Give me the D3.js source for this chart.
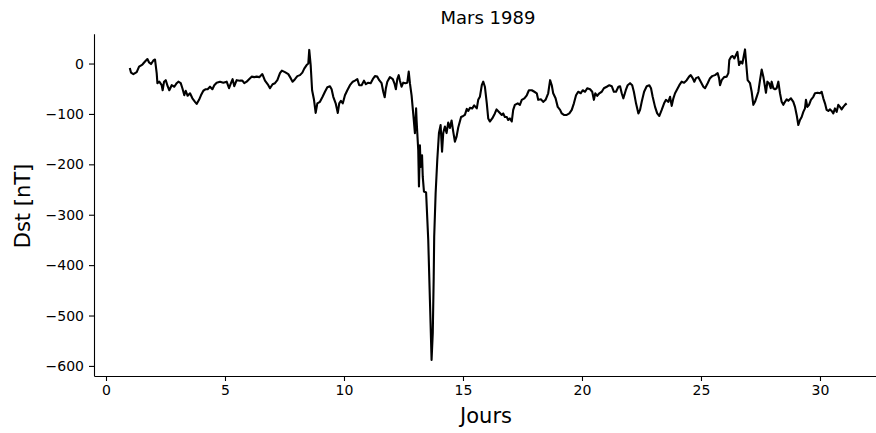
<!DOCTYPE html>
<html><head><meta charset="utf-8">
<script src="https://cdn.jsdelivr.net/npm/d3@7"></script>
<style>body{margin:0;background:#fff}svg{display:block}</style>
</head><body><svg id="c" width="876" height="433"></svg>
<script>
const title = "Mars 1989";
const xLabel = "Jours";
const yLabel = "Dst [nT]";
const xTicks = [0, 5, 10, 15, 20, 25, 30];
const yTicks = [0, -100, -200, -300, -400, -500, -600];

const days = [
1.00,1.05,1.15,1.29,1.39,1.53,1.64,1.74,1.81,1.89,1.99,2.06,2.13,2.16,2.24,2.34,2.38,2.44,2.51,2.59,
2.66,2.76,2.87,2.97,3.04,3.14,3.21,3.29,3.35,3.43,3.53,3.63,3.74,3.81,3.91,3.99,4.09,4.19,4.27,4.37,
4.47,4.55,4.65,4.79,4.93,5.07,5.17,5.25,5.32,5.39,5.49,5.63,5.73,5.81,5.91,6.01,6.12,6.23,6.33,6.44,
6.57,6.68,6.82,6.89,
7.00,7.10,7.20,7.31,7.39,7.52,7.66,7.76,7.84,7.94,8.04,8.15,8.25,8.33,8.43,8.50,8.54,8.60,8.66,8.74,
8.81,8.88,8.99,9.10,9.20,9.30,9.41,9.48,9.55,9.65,9.74,9.80,9.87,9.95,10.04,10.14,10.25,10.37,10.46,10.56,
10.64,10.74,10.84,10.92,11.02,11.12,11.21,11.30,11.40,11.48,11.58,11.65,11.71,11.76,11.82,11.93,12.05,12.13,12.18,12.24,
12.30,12.35,12.42,12.49,12.58,12.66,12.72,
12.77,12.84,12.91,12.98,13.03,13.05,13.08,13.12,13.15,13.19,13.22,13.28,13.31,13.36,13.45,13.54,13.61,13.68,13.73,13.77,
13.79,13.85,13.92,13.99,14.06,14.12,14.17,14.24,14.31,14.38,14.45,14.52,14.59,14.66,14.73,14.80,14.92,15.01,15.08,15.16,
15.22,15.29,15.39,15.47,15.58,15.64,15.71,15.79,15.85,15.92,16.00,16.06,16.13,16.23,16.34,16.41,16.51,16.63,16.69,16.76,
16.84,16.90,16.97,17.05,17.11,17.18,17.30,17.39,17.47,17.58,17.68,17.77,17.89,18.00,18.10,18.16,18.28,18.37,18.47,18.58,
18.66,18.73,18.79,18.89,18.98,19.08,
19.15,19.24,19.36,19.47,19.57,19.66,19.75,19.84,19.95,20.03,20.13,20.22,20.34,20.43,20.50,20.56,20.64,20.73,20.83,20.92,
21.04,21.15,21.25,21.34,21.43,21.53,21.60,21.67,21.74,21.84,21.92,22.02,22.11,22.18,22.27,22.37,22.44,22.51,22.61,22.72,
22.83,22.90,22.97,23.07,23.16,23.25,23.35,23.45,23.53,23.63,23.70,23.77,23.84,23.91,24.00,24.09,24.19,24.29,24.40,24.50,
24.57,24.65,24.72,24.79,24.89,24.99,25.10,25.17,
25.28,25.38,25.47,25.59,25.70,25.76,25.80,25.87,25.97,26.08,26.15,26.19,26.26,26.33,26.40,26.47,26.53,26.60,26.67,26.74,
26.79,26.85,26.90,26.96,27.06,27.13,27.20,27.27,27.34,27.41,27.48,27.55,27.62,27.69,27.73,27.79,27.86,27.93,27.97,28.04,
28.11,28.18,28.25,28.32,28.39,28.46,28.53,28.60,28.67,28.78,28.88,28.95,29.02,29.09,29.16,29.23,29.30,29.37,29.41,29.47,
29.54,29.62,29.72,29.79,29.90,30.00,30.07,30.14,30.21,30.28,30.35,30.42,30.49,30.56,30.63,30.70,30.77,30.84,30.91,30.98,
31.05,31.12
];

const dst = [
-9,-18,-21,-17,-6,-2,4,9,2,-1,6,8,-19,-39,-36,-43,-53,-36,-33,-45,
-53,-43,-46,-39,-36,-39,-49,-63,-54,-64,-59,-69,-76,-80,-72,-63,-54,-51,-51,-46,
-51,-43,-38,-36,-38,-36,-49,-39,-31,-45,-33,-34,-34,-39,-36,-31,-26,-27,-26,-27,
-21,-34,-43,-49,
-41,-39,-33,-19,-14,-17,-21,-29,-36,-31,-25,-23,-18,-10,-3,0,27,-3,-53,-72,
-98,-79,-76,-66,-56,-47,-45,-51,-66,-79,-98,-79,-74,-79,-63,-53,-43,-36,-34,-31,
-43,-43,-34,-41,-38,-39,-31,-25,-26,-33,-39,-56,-67,-49,-36,-27,-31,-41,-51,-31,
-23,-34,-46,-38,-39,-38,-16,
-39,-63,-100,-138,-89,-112,-138,-172,-244,-162,-205,-182,-225,-254,-256,-350,-469,-588,-535,-423,
-344,-258,-191,-138,-122,-175,-138,-125,-138,-117,-128,-113,-135,-155,-145,-127,-106,-104,-102,-90,
-94,-88,-89,-83,-89,-72,-66,-43,-36,-46,-79,-109,-115,-109,-99,-91,-96,-102,-99,-106,
-106,-112,-109,-115,-92,-82,-79,-82,-72,-69,-63,-53,-53,-56,-59,-72,-71,-76,-72,-59,
-33,-43,-59,-69,-86,-92,
-99,-102,-102,-99,-92,-79,-63,-56,-59,-53,-56,-49,-51,-56,-72,-59,-64,-59,-56,-49,
-46,-43,-45,-56,-56,-46,-45,-59,-69,-53,-43,-39,-43,-56,-79,-99,-92,-76,-56,-45,
-43,-49,-66,-86,-99,-104,-92,-79,-72,-76,-66,-84,-69,-59,-51,-43,-36,-38,-33,-26,
-23,-29,-36,-29,-27,-36,-46,-49,
-39,-29,-25,-23,-19,-29,-43,-33,-27,-26,-19,7,13,15,10,17,23,-3,4,0,
13,28,0,-33,-39,-56,-82,-76,-66,-56,-33,-12,-26,-46,-58,-36,-39,-49,-36,-49,
-51,-49,-36,-59,-76,-82,-76,-71,-74,-69,-76,-86,-102,-122,-112,-106,-96,-89,-72,-86,
-82,-72,-66,-59,-58,-59,-56,-69,-79,-92,-94,-91,-94,-99,-89,-96,-82,-86,-91,-86,
-82,-79
];

const data = days.map((d, i) => ({ day: d, v: dst[i] })).filter(d => d.v !== undefined);

const svg = d3.select("#c");
const font = "DejaVu Sans, Liberation Sans, sans-serif";

const x = d3.scaleLinear().domain([-0.5, 32.4]).range([94.1, 877.1]);
const y = d3.scaleLinear().domain([-620, 59]).range([376, 33.8]);

// line
svg.append("path")
  .datum(data)
  .attr("fill", "none")
  .attr("stroke", "#000")
  .attr("stroke-width", 2.1)
  .attr("stroke-linejoin", "round")
  .attr("d", d3.line().x(d => x(d.day)).y(d => y(d.v)));

// axes
const fmt = d3.format("");
const gx = svg.append("g").attr("transform", "translate(0,376)")
  .call(d3.axisBottom(x).tickValues(xTicks).tickFormat(fmt).tickSizeInner(5).tickSizeOuter(0).tickPadding(4));
const gy = svg.append("g").attr("transform", "translate(94,0)")
  .call(d3.axisLeft(y).tickValues(yTicks).tickFormat(fmt).tickSizeInner(5).tickSizeOuter(0).tickPadding(5));

[gx, gy].forEach(g => {
  g.select(".domain").attr("stroke", "#000").attr("stroke-width", 1.1);
  g.selectAll(".tick line").attr("stroke", "#000").attr("stroke-width", 1.1);
  g.selectAll(".tick text").attr("fill", "#000").style("font-family", font).style("font-size", "14px");
});

// title
svg.append("text").attr("x", 488).attr("y", 24).attr("text-anchor", "middle")
  .style("font-family", font).style("font-size", "18px").attr("fill", "#000").text(title);

// x label
svg.append("text").attr("x", 486).attr("y", 423).attr("text-anchor", "middle")
  .style("font-family", font).style("font-size", "21px").attr("fill", "#000").text(xLabel);

// y label
svg.append("text").attr("transform", "translate(30,206) rotate(-90)").attr("text-anchor", "middle")
  .style("font-family", font).style("font-size", "21px").attr("fill", "#000").text(yLabel);
</script>
</body></html>
